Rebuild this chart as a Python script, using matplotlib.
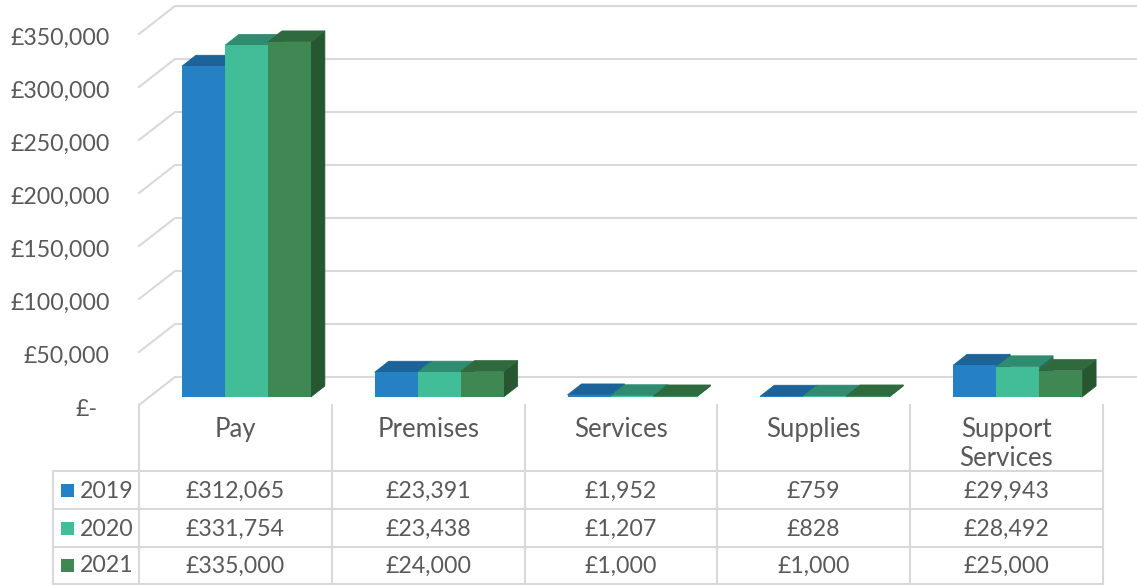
import matplotlib
matplotlib.use('Agg')
import matplotlib.pyplot as plt
from matplotlib.patches import Polygon, Rectangle

plt.rcParams['font.family'] = ['Lato', 'DejaVu Sans']

categorias = ['Pay', 'Premises', 'Services', 'Supplies', 'Support\nServices']
anios = ['2019', '2020', '2021']
v2019 = [312065, 23391, 1952, 759, 29943]
v2020 = [331754, 23438, 1207, 828, 28492]
v2021 = [335000, 24000, 1000, 1000, 25000]
ticks = [0, 50000, 100000, 150000, 200000, 250000, 300000, 350000]

colores = ['#2581c4', '#41bd97', '#3f8853']
colores_top = ['#1c6399', '#2f8c70', '#2f6a3e']
colores_lado = ['#175079', '#247058', '#265731']
gris = '#d9d9d9'
texto = '#595959'
FS = 16.7
FS_CAT = 18.5


def libra(v):
    return '£{:,}'.format(v)


W, H = 1137, 585
fig = plt.figure(figsize=(W / 100, H / 100), dpi=100)

# capa en pixeles para la tabla
tabla = fig.add_axes([0, 0, 1, 1])
tabla.set_xlim(0, W)
tabla.set_ylim(H, 0)
tabla.axis('off')

# ejes reales: x en categorias, y en libras
X0, X1, Y0, Y1 = 139, 1103, 397, 26
ax = fig.add_axes([X0 / W, 1 - Y0 / H, (X1 - X0) / W, (Y0 - Y1) / H])
ax.set_xlim(-0.5, 4.5)
ax.set_ylim(0, 350000)
ax.axis('off')
px_x = 5 / (X1 - X0)
px_y = 350000 / (Y0 - Y1)

# paredes y lineas de la cuadricula
for t in ticks:
    xs = [-0.5, -0.5 + 36 * px_x, -0.5 + (W - X0) * px_x]
    ys = [t - 8 * px_y, t + 20 * px_y, t + 20 * px_y]
    ax.plot(xs, ys, color=gris, lw=1.5, clip_on=False, zorder=1)
    label = libra(t) if t > 0 else '£-'
    ax.text(-0.5 - (29 if t > 0 else 42) * px_x, t - 18.5 * px_y, label,
            ha='right', va='baseline', fontsize=FS, color=texto, clip_on=False)

# barras con falsa profundidad
ancho = 43 * px_x
dx = 14 * px_x
dy = 11 * px_y
z = 3
for i, valores in enumerate([v2019, v2020, v2021]):
    for j, v in enumerate(valores):
        x = j + 11 * px_x + (i - 1) * ancho
        izq, der = x - ancho / 2, x + ancho / 2
        ax.add_patch(Polygon([(der, 0), (der + dx, dy), (der + dx, v + dy), (der, v)],
                             facecolor=colores_lado[i], edgecolor=colores_lado[i], lw=0.5,
                             zorder=z, clip_on=False))
        ax.add_patch(Polygon([(izq, v), (izq + dx, v + dy), (der + dx, v + dy), (der, v)],
                             facecolor=colores_top[i], edgecolor=colores_top[i], lw=0.5,
                             zorder=z, clip_on=False))
        ax.bar(x, v, width=ancho, color=colores[i], zorder=z + 1, clip_on=False)
    z += 2

# tabla de datos
col_x = [139, 332, 525, 717, 910, 1103]
fila_y = [471, 509, 547, 584]
base_y = [498, 536, 572.5]
for x in col_x:
    tabla.plot([x, x], [405, 584], color=gris, lw=1.5, zorder=1)
tabla.plot([53, 53], [471, 584], color=gris, lw=1.5, zorder=1)
for y in fila_y:
    tabla.plot([53, 1103], [y, y], color=gris, lw=1.5, zorder=1)

for j, cat in enumerate(categorias):
    xc = (col_x[j] + col_x[j + 1]) / 2
    for k, linea in enumerate(cat.split('\n')):
        tabla.text(xc, 437 + 29 * k, linea, ha='center', va='baseline', fontsize=FS_CAT, color=texto)

for i, valores in enumerate([v2019, v2020, v2021]):
    yc = (fila_y[i] + fila_y[i + 1]) / 2
    tabla.add_patch(Rectangle((61, yc - 6.5), 13, 13, color=colores[i], lw=0))
    tabla.text(80, base_y[i], anios[i], ha='left', va='baseline', fontsize=FS, color=texto)
    for j, v in enumerate(valores):
        xc = (col_x[j] + col_x[j + 1]) / 2
        tabla.text(xc, base_y[i], libra(v), ha='center', va='baseline', fontsize=FS, color=texto)

fig.savefig('out.png', dpi=100)
plt.close(fig)
